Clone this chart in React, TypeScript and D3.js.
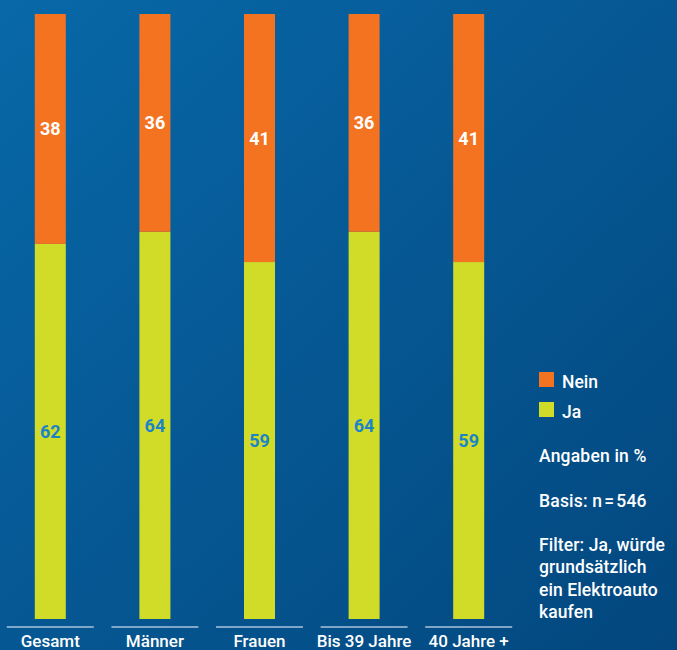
import React from "react";
import * as d3 from "d3";

const categories = ["Gesamt", "Männer", "Frauen", "Bis 39 Jahre", "40 Jahre +"];
const jaValues = [62, 64, 59, 64, 59];
const neinValues = [38, 36, 41, 36, 41];
const legendItems = ["Nein", "Ja"];
const notes = ["Angaben in %", "Basis: n\u200a=\u200a546"];
const filterLines = ["Filter: Ja, würde", "grundsätzlich", "ein Elektroauto", "kaufen"];

const W = 677;
const H = 650;
const ORANGE = "#f47321";
const GREEN = "#d1dc28";
const FONT = "Roboto, 'Noto Sans', sans-serif";

export default function App() {
  const x = d3
    .scaleBand<string>()
    .domain(categories)
    .range([-2, 521])
    .paddingInner(0.64)
    .paddingOuter(0.32);
  const y = d3.scaleLinear().domain([0, 100]).range([619, 14]);
  const bw = 31;

  const series = [
    { key: "Ja", values: jaValues, color: GREEN, text: "#1b84c6", base: () => 0 },
    { key: "Nein", values: neinValues, color: ORANGE, text: "#ffffff", base: (i: number) => jaValues[i] },
  ];

  return (
    <svg
      width={W}
      height={H}
      style={{ position: "absolute", left: 0, top: 0, display: "block" }}
      fontFamily={FONT}
    >
      <defs>
        <linearGradient id="bg" x1="0" y1="0" x2="1" y2="1">
          <stop offset="0%" stopColor="#0868a8" />
          <stop offset="100%" stopColor="#03477e" />
        </linearGradient>
      </defs>
      <rect x={0} y={0} width={W} height={H} fill="url(#bg)" />
      {categories.map((c, i) => {
        const cx = (x(c) as number) + x.bandwidth() / 2;
        return (
          <g key={c}>
            {series.map((s) => {
              const b = s.base(i);
              const t = b + s.values[i];
              const y0 = y(b);
              const y1 = y(t);
              return (
                <g key={s.key}>
                  <rect x={cx - bw / 2} y={y1} width={bw} height={y0 - y1} fill={s.color} />
                  <text
                    x={cx}
                    y={(y0 + y1) / 2 + 6.5}
                    textAnchor="middle"
                    fontSize={18}
                    fontWeight={700}
                    fill={s.text}
                  >
                    {s.values[i]}
                  </text>
                </g>
              );
            })}
            <line x1={cx - 43.5} x2={cx + 43.5} y1={627} y2={627} stroke="#a9c3dc" strokeWidth={1.6} />
            <text x={cx} y={647} textAnchor="middle" fontSize={17} fontWeight={500} fill="#ffffff">
              {c}
            </text>
          </g>
        );
      })}
      {legendItems.map((l, i) => (
        <g key={l} transform={`translate(539, ${372 + i * 30})`}>
          <rect x={0} y={0} width={15} height={15} fill={l === "Nein" ? ORANGE : GREEN} />
          <text x={23} y={15.5} fontSize={17.5} fontWeight={500} fill="#ffffff">
            {l}
          </text>
        </g>
      ))}
      {notes.map((n, i) => (
        <text key={n} x={539} y={462 + i * 45} fontSize={17.5} fontWeight={500} letterSpacing={0.2} fill="#ffffff">
          {n}
        </text>
      ))}
      {filterLines.map((n, i) => (
        <text key={n} x={539} y={551 + i * 22.3} fontSize={17.5} fontWeight={500} letterSpacing={0.1} fill="#ffffff">
          {n}
        </text>
      ))}
    </svg>
  );
}
